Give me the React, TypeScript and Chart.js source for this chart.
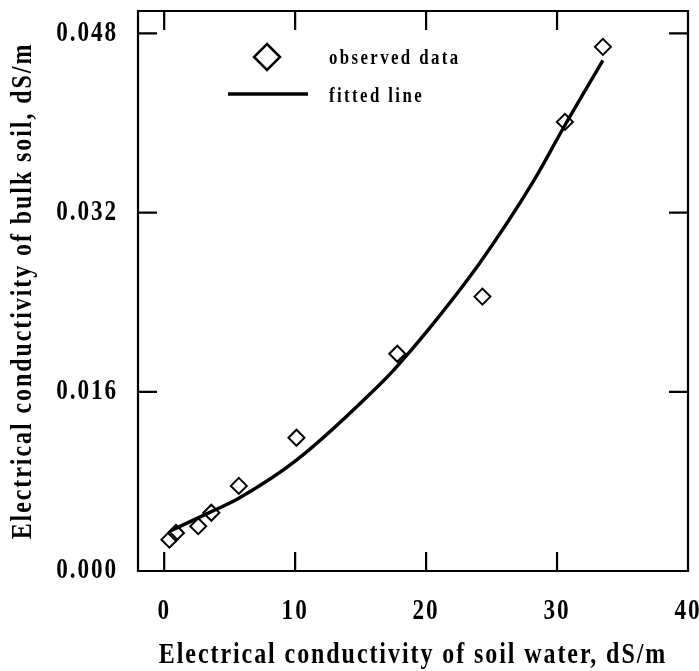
import React, { useEffect, useRef } from 'react';
import { Chart, registerables } from 'chart.js';

Chart.register(...registerables);

// ---- data ----
const observedX = [0.4, 0.9, 2.6, 3.6, 5.7, 10.1, 17.8, 24.3, 30.6, 33.5];
const observedY = [0.0028, 0.0034, 0.0040, 0.0052, 0.0076, 0.0119, 0.0194, 0.0245, 0.0401, 0.0468];
const fittedX = [0.5, 3.6, 5.7, 10.1, 16.5, 17.8, 20.0, 24.1, 28.2, 30.6, 33.5];
const fittedY = [0.0036, 0.0053, 0.0065, 0.0099, 0.0167, 0.0183, 0.0213, 0.0275, 0.0348, 0.0398, 0.0456];
const xTicks = [0, 10, 20, 30, 40];
const yTicks = [0, 0.016, 0.032, 0.048];
const seriesLabels = ['observed data', 'fitted line'];
const xLabel = 'Electrical conductivity of soil water, dS/m';
const yLabel = 'Electrical conductivity of bulk soil, dS/m';

const FAMILY = "'Liberation Serif', 'DejaVu Serif', serif";
const SQUEEZE = 0.8; // horizontal compression of the tall, narrow printed type
const SPACING = '2.4px';

// draw every text narrower (the reference uses a tall condensed bold serif)
function condense(ctx: any, k: number) {
  if (ctx.__condensed) return;
  ctx.__condensed = true;
  const fill = ctx.fillText.bind(ctx);
  const measure = ctx.measureText.bind(ctx);
  ctx.fillText = (text: string, x: number, y: number) => {
    ctx.save();
    ctx.translate(x, y);
    ctx.scale(k, 1);
    fill(text, 0, 0);
    ctx.restore();
  };
  ctx.measureText = (text: string) => {
    const m = measure(text);
    return {
      width: m.width * k,
      actualBoundingBoxAscent: m.actualBoundingBoxAscent,
      actualBoundingBoxDescent: m.actualBoundingBoxDescent,
      actualBoundingBoxLeft: m.actualBoundingBoxLeft * k,
      actualBoundingBoxRight: m.actualBoundingBoxRight * k,
      fontBoundingBoxAscent: m.fontBoundingBoxAscent,
      fontBoundingBoxDescent: m.fontBoundingBoxDescent,
    };
  };
}

const spacingPlugin = {
  id: 'spacing',
  beforeUpdate(chart: any) { chart.ctx.letterSpacing = SPACING; },
  beforeLayout(chart: any) { chart.ctx.letterSpacing = SPACING; },
  beforeDraw(chart: any) { chart.ctx.letterSpacing = SPACING; },
};

const framePlugin = {
  id: 'frame',
  afterDatasetsDraw(chart: any) {
    const { ctx, chartArea: a, scales } = chart;
    const xs = scales.x, ys = scales.y;
    const TL = 19;
    ctx.save();
    ctx.strokeStyle = '#000';
    ctx.lineWidth = 2.2;
    ctx.beginPath();
    ctx.rect(a.left, a.top, a.right - a.left, a.bottom - a.top);
    ctx.stroke();
    ctx.beginPath();
    xTicks.forEach((v) => {
      if (v <= xs.min || v >= xs.max) return;
      const p = xs.getPixelForValue(v);
      ctx.moveTo(p, a.bottom); ctx.lineTo(p, a.bottom - TL);
      ctx.moveTo(p, a.top); ctx.lineTo(p, a.top + TL);
    });
    yTicks.forEach((v) => {
      if (v <= ys.min || v >= ys.max) return;
      const p = ys.getPixelForValue(v);
      ctx.moveTo(a.left, p); ctx.lineTo(a.left + TL, p);
      ctx.moveTo(a.right, p); ctx.lineTo(a.right - TL, p);
    });
    ctx.stroke();
    ctx.restore();
  },
};

const legendPlugin = {
  id: 'innerLegend',
  afterDraw(chart: any) {
    const { ctx, chartArea: a } = chart;
    const labels = chart.data.datasets.map((d: any) => d.label);
    ctx.save();
    ctx.strokeStyle = '#000';
    const cx = a.left + 129, cy = a.top + 46, r = 13;
    ctx.lineWidth = 2.5;
    ctx.beginPath();
    ctx.moveTo(cx, cy - r); ctx.lineTo(cx + r, cy); ctx.lineTo(cx, cy + r); ctx.lineTo(cx - r, cy); ctx.closePath();
    ctx.stroke();
    ctx.lineWidth = 3.5;
    ctx.beginPath();
    ctx.moveTo(a.left + 90, a.top + 83); ctx.lineTo(a.left + 170, a.top + 83);
    ctx.stroke();
    ctx.fillStyle = '#000';
    ctx.font = `bold 21px ${FAMILY}`;
    ctx.letterSpacing = '3px';
    ctx.textAlign = 'left';
    ctx.textBaseline = 'middle';
    ctx.fillText(labels[0], a.left + 191, a.top + 48);
    ctx.fillText(labels[1], a.left + 191, a.top + 86);
    ctx.restore();
  },
};

export default function App() {
  const ref = useRef<HTMLCanvasElement | null>(null);
  useEffect(() => {
    document.body.style.margin = '0';
    const canvas = ref.current!;
    condense(canvas.getContext('2d'), SQUEEZE);
    const chart = new Chart(canvas, {
      type: 'scatter',
      data: {
        datasets: [
          {
            label: seriesLabels[0],
            data: observedX.map((x, i) => ({ x, y: observedY[i] })),
            pointStyle: 'rectRot',
            pointRadius: 8,
            pointBorderWidth: 2,
            pointBorderColor: '#000',
            pointBackgroundColor: 'rgba(0,0,0,0)',
            showLine: false,
            order: 1,
          },
          {
            label: seriesLabels[1],
            data: fittedX.map((x, i) => ({ x, y: fittedY[i] })),
            showLine: true,
            borderColor: '#000',
            borderWidth: 3.4,
            pointRadius: 0,
            cubicInterpolationMode: 'monotone',
            order: 2,
          },
        ],
      },
      options: {
        animation: false,
        responsive: false,
        maintainAspectRatio: false,
        layout: { padding: { top: 11, right: 11, left: 0, bottom: 0 } },
        plugins: { legend: { display: false }, tooltip: { enabled: false } },
        scales: {
          x: {
            type: 'linear',
            min: -2,
            max: 40,
            grid: { display: false, drawTicks: false },
            border: { display: false },
            afterBuildTicks: (s: any) => { s.ticks = xTicks.map((v) => ({ value: v })); },
            afterFit: (s: any) => { s.height = 100; s.paddingLeft = 0; s.paddingRight = 0; },
            ticks: {
              color: '#000',
              padding: 23,
              font: { family: FAMILY, size: 29, weight: 'bold' },
              callback: (v: any) => String(v),
            },
            title: {
              display: true,
              text: xLabel,
              color: '#000',
              font: { family: FAMILY, size: 30, weight: 'bold' },
              padding: { top: 0, bottom: -2 },
            },
          },
          y: {
            type: 'linear',
            min: 0,
            max: 0.05,
            grid: { display: false, drawTicks: false },
            border: { display: false },
            afterBuildTicks: (s: any) => { s.ticks = yTicks.map((v) => ({ value: v })); },
            afterFit: (s: any) => { s.width = 138; s.paddingTop = 0; s.paddingBottom = 0; },
            ticks: {
              color: '#000',
              padding: 20,
              font: { family: FAMILY, size: 29, weight: 'bold' },
              callback: (v: any) => Number(v).toFixed(3),
            },
            title: {
              display: true,
              text: yLabel,
              color: '#000',
              font: { family: FAMILY, size: 30, weight: 'bold' },
              padding: { top: 5, bottom: 0 },
            },
          },
        },
      },
      plugins: [spacingPlugin, framePlugin, legendPlugin],
    } as any);
    return () => chart.destroy();
  }, []);
  return (
    <div style={{ width: 699, height: 671, background: '#fff' }}>
      <canvas ref={ref} width={699} height={671} style={{ display: 'block', width: 699, height: 671 }} />
    </div>
  );
}
